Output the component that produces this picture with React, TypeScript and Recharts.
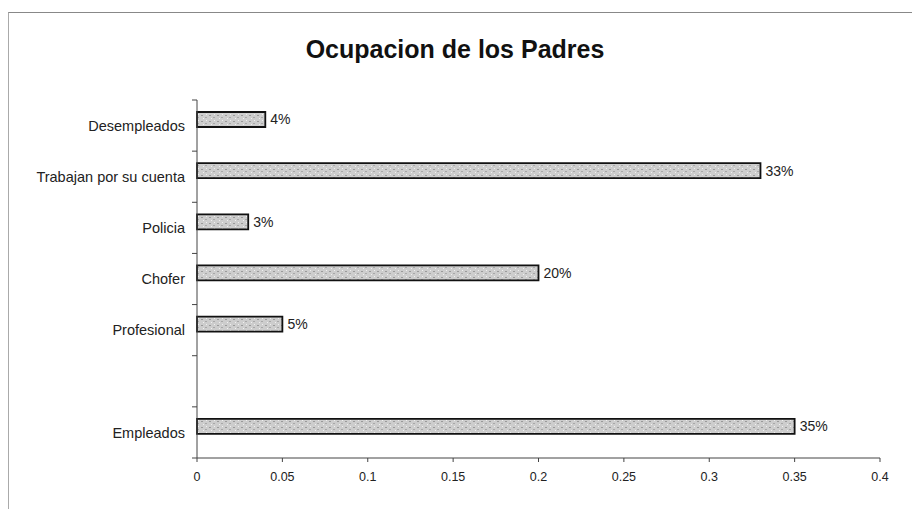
import React from 'react';
import { BarChart, Bar, XAxis, YAxis, LabelList } from 'recharts';

const categories = ['Desempleados', 'Trabajan por su cuenta', 'Policia', 'Chofer', 'Profesional', '', 'Empleados'];
const values: (number | null)[] = [0.04, 0.33, 0.03, 0.2, 0.05, null, 0.35];
const xTicks = [0, 0.05, 0.1, 0.15, 0.2, 0.25, 0.3, 0.35, 0.4];

const data = categories.map((name, i) => ({ name, value: values[i], spacer: null }));

const FONT = '"Liberation Sans", Arial, sans-serif';
const CAT_MARGIN = 12;

const CategoryTick = (props: any) => {
  const { x, y, payload, index, visibleTicksCount } = props;
  const half = payload && payload.offset ? payload.offset : 0;
  const axisX = x + CAT_MARGIN;
  return (
    <g>
      <line x1={axisX - 5} x2={axisX} y1={y - half} y2={y - half} stroke="#444" />
      {index === visibleTicksCount - 1 && (
        <line x1={axisX - 5} x2={axisX} y1={y + half} y2={y + half} stroke="#444" />
      )}
      <text x={x} y={y} dy="0.355em" textAnchor="end" fontSize={14.5} fill="#222" fontFamily={FONT}>
        {payload.value}
      </text>
    </g>
  );
};

export default function App() {
  return (
    <div style={{ position: 'absolute', left: 0, top: 0, width: 912, height: 509, background: '#fff', fontFamily: FONT }}>
      <div style={{ position: 'absolute', left: 8, top: 12, width: 904, height: 497, borderTop: '1px solid #888', borderLeft: '1px solid #aaa' }} />
      <div style={{ position: 'absolute', left: 0, top: 35, width: 910, textAlign: 'center', fontSize: 25, fontWeight: 'bold', color: '#111' }}>
        Ocupacion de los Padres
      </div>
      <div style={{ position: 'absolute', left: 0, top: 0 }}>
        <BarChart
          width={912}
          height={509}
          data={data}
          layout="vertical"
          barGap={0}
          margin={{ top: 100, right: 32, bottom: 21, left: 0 }}
        >
          <defs>
            <pattern id="speckle" width="8" height="6" patternUnits="userSpaceOnUse">
              <rect width="8" height="6" fill="#cdcdcd" />
              <rect x="1" y="1" width="2" height="1" fill="#9a9a9a" />
              <rect x="5" y="3" width="2" height="1" fill="#a8a8a8" />
              <rect x="3" y="4" width="1" height="1" fill="#f0f0f0" />
              <rect x="6" y="0" width="1" height="1" fill="#f0f0f0" />
            </pattern>
          </defs>
          <XAxis
            type="number"
            domain={[0, 0.4]}
            ticks={xTicks}
            tickFormatter={(v: number) => String(v)}
            tick={{ fontSize: 12.5, fill: '#222', fontFamily: FONT }}
            axisLine={{ stroke: '#444' }}
            tickLine={{ stroke: '#444' }}
            tickSize={4}
            tickMargin={10}
          />
          <YAxis
            dataKey="name"
            type="category"
            width={197}
            tick={CategoryTick}
            axisLine={{ stroke: '#444' }}
            tickLine={false}
            tickSize={0}
            tickMargin={CAT_MARGIN}
            interval={0}
          />
          <Bar dataKey="value" barSize={15} fill="url(#speckle)" stroke="#111" strokeWidth={1.8} isAnimationActive={false}>
            <LabelList
              dataKey="value"
              position="right"
              offset={5}
              formatter={(v: any) => (v == null ? '' : `${Math.round(v * 100)}%`)}
              style={{ fontSize: 14, fill: '#222', fontFamily: FONT }}
            />
          </Bar>
          <Bar dataKey="spacer" barSize={12} fill="none" isAnimationActive={false} />
        </BarChart>
      </div>
    </div>
  );
}
